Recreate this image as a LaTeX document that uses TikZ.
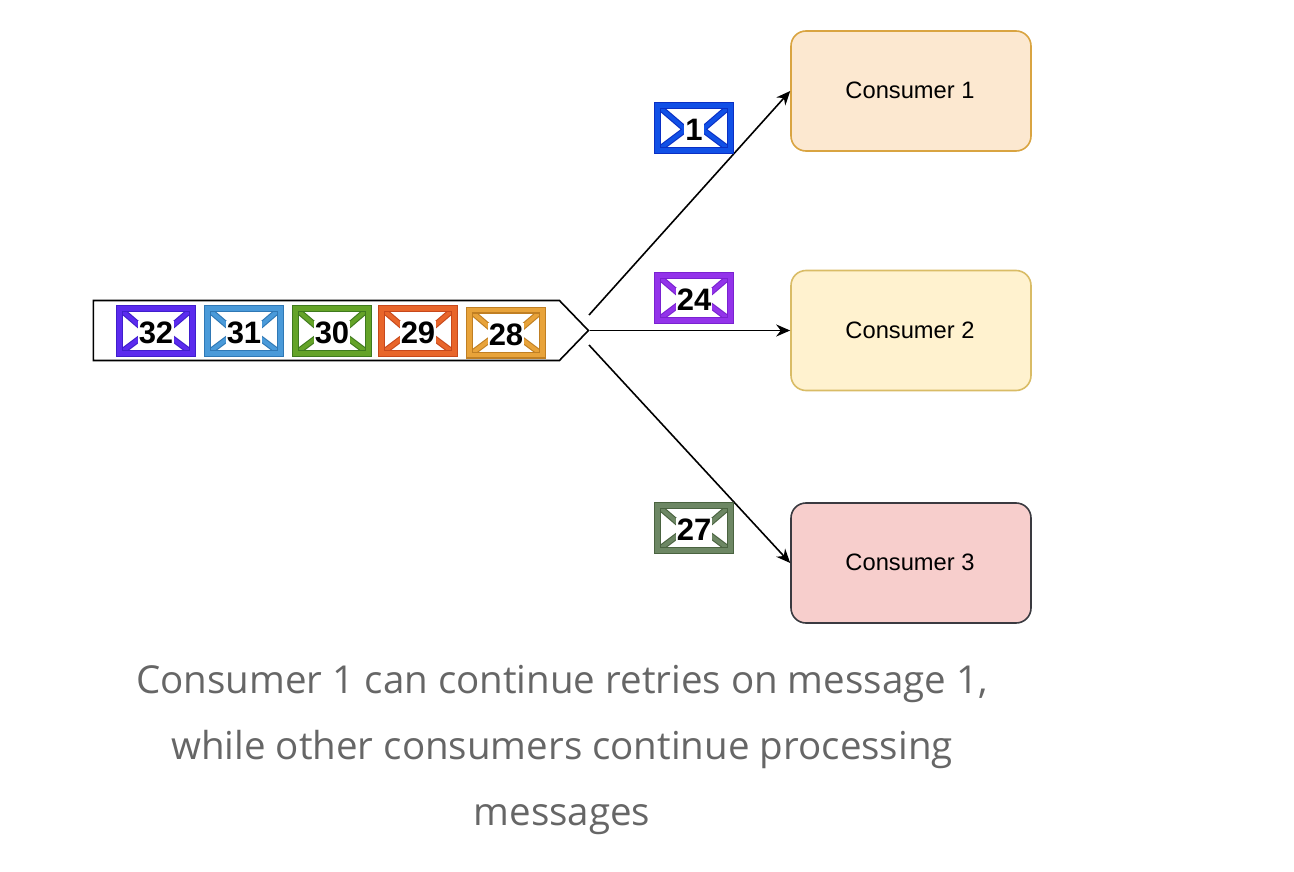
\documentclass[tikz,border=0pt]{standalone}
\usepackage{fontspec}
\setmainfont{Liberation Sans}
\newfontfamily\notefont{Open Sans}
\usetikzlibrary{shapes,shapes.symbols,arrows.meta}

\definecolor{violetfill}{HTML}{5B2BEE}
\definecolor{violetline}{HTML}{3F1FCC}
\definecolor{skyfill}{HTML}{4A9AD9}
\definecolor{skyline}{HTML}{2F78B5}
\definecolor{grassfill}{HTML}{64A328}
\definecolor{grassline}{HTML}{3F7A1E}
\definecolor{rustfill}{HTML}{E8652A}
\definecolor{rustline}{HTML}{C7481C}
\definecolor{amberfill}{HTML}{E8A33A}
\definecolor{amberline}{HTML}{C07F23}
\definecolor{bluefill}{HTML}{1150E6}
\definecolor{blueline}{HTML}{0A2FC4}
\definecolor{purplefill}{HTML}{9333EA}
\definecolor{purpleline}{HTML}{7A22D0}
\definecolor{mossfill}{HTML}{6D8764}
\definecolor{mossline}{HTML}{4A6340}
\definecolor{peachfill}{HTML}{FCE8D0}
\definecolor{peachline}{HTML}{D9A441}
\definecolor{creamfill}{HTML}{FFF2CF}
\definecolor{creamline}{HTML}{D9BC66}
\definecolor{rosefill}{HTML}{F7CECC}
\definecolor{roseline}{HTML}{3A3A40}

\tikzset{
	msgbox/.style 2 args={rectangle,draw=#2,double=#1,line width=1.2pt,double distance=4.6pt,
		fill=white,minimum width=73pt,minimum height=45pt,inner sep=0pt,
		text height=25.5pt,text depth=0pt,
		font=\fontsize{31}{31}\selectfont\bfseries,
		path picture={
			\draw[draw=#2,double=#1,line width=1.1pt,double distance=4pt]
				(path picture bounding box.north west) -- ++(28pt,-24pt) -- (path picture bounding box.south west);
			\draw[draw=#2,double=#1,line width=1.1pt,double distance=4pt]
				(path picture bounding box.north east) -- ++(-28pt,-24pt) -- (path picture bounding box.south east);
		}},
	consumer/.style 2 args={rectangle,rounded corners=15pt,draw=#2,fill=#1,line width=1.6pt,
		minimum width=240pt,minimum height=120pt,font=\fontsize{23.7}{23.7}\selectfont},
	flow/.style={-{Stealth[length=14pt,width=12pt]},line width=1.6pt}
}
\newcommand{\msgnum}[1]{{\setlength{\fboxsep}{1pt}\colorbox{white}{#1}}}
\newcommand{\consumername}[1]{\raisebox{1pt}{\hspace{-2pt}#1}}

\begin{document}
\begin{tikzpicture}[x=1pt,y=-1pt]
	\useasboundingbox (0,0) rectangle (1294,872);

	\node[signal,signal to=east,signal from=nowhere,signal pointer angle=92,draw,line width=1.6pt,
		minimum width=495pt,minimum height=60pt,inner sep=0pt,anchor=east] (queue) at (589.5,330.5) {};
	\coordinate (queueup) at (589,315);
	\coordinate (queuedown) at (589,345);

	\node[msgbox={violetfill}{violetline}] (msg32) at (156,331) {\msgnum{32}};
	\node[msgbox={skyfill}{skyline}] (msg31) at (244,331) {\msgnum{31}};
	\node[msgbox={grassfill}{grassline}] (msg30) at (332,331) {\msgnum{30}};
	\node[msgbox={rustfill}{rustline}] (msg29) at (418,331) {\msgnum{29}};
	\node[msgbox={amberfill}{amberline}] (msg28) at (506,332.5) {\msgnum{28}};

	\node[consumer={peachfill}{peachline}] (consumer1) at (911,91) {\consumername{Consumer 1}};
	\node[consumer={creamfill}{creamline}] (consumer2) at (911,330.5) {\consumername{Consumer 2}};
	\node[consumer={rosefill}{roseline}] (consumer3) at (911,563) {\consumername{Consumer 3}};

	\draw[flow] (queueup) -- (consumer1.west);
	\draw[flow] (queue.east) -- (consumer2.west);
	\draw[flow] (queuedown) -- (consumer3.west);

	\node[msgbox={bluefill}{blueline}] (msg1) at (694,128) {\msgnum{1}};
	\node[msgbox={purplefill}{purpleline}] (msg24) at (694,298) {\msgnum{24}};
	\node[msgbox={mossfill}{mossline}] (msg27) at (694,528) {\msgnum{27}};

	\node[font=\notefont\fontsize{38.5}{66}\selectfont,text=black!60,align=center] (note) at (562,749.5)
		{Consumer 1 can continue retries on message 1,\\while other consumers continue processing\\messages};
\end{tikzpicture}
\end{document}
